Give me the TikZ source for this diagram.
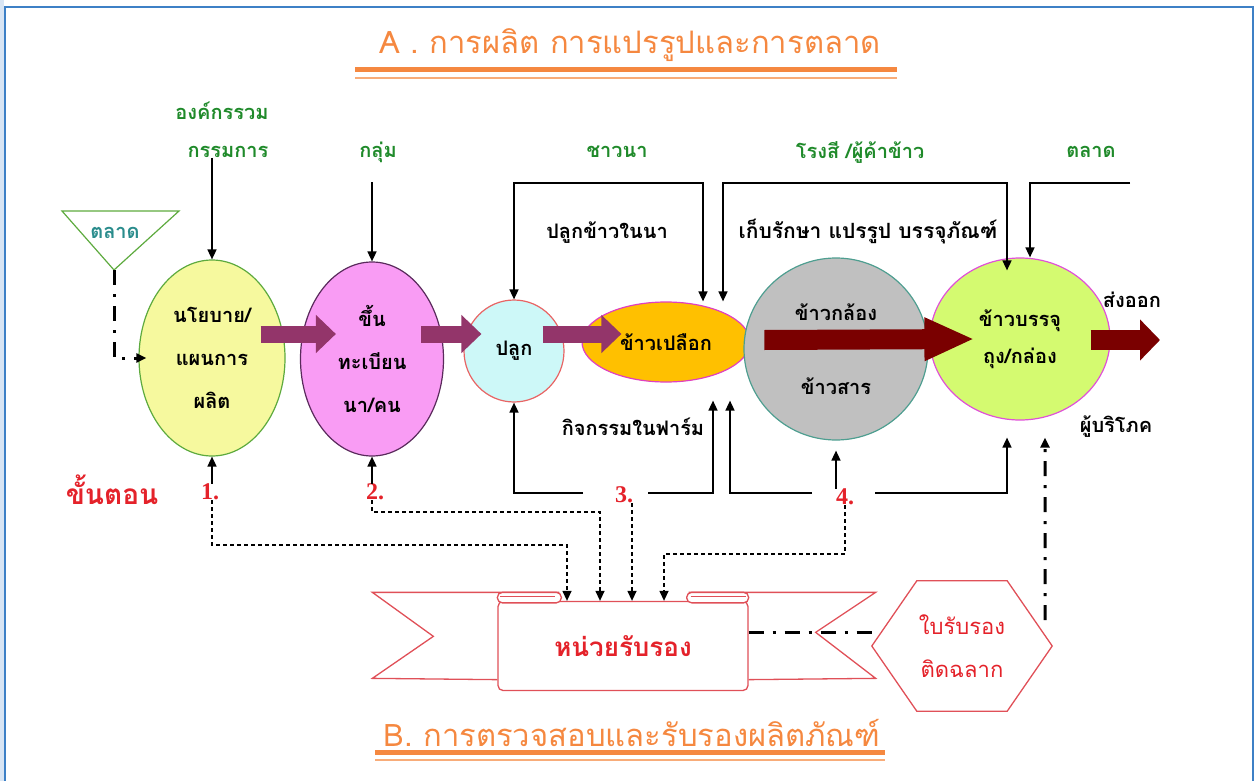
\documentclass[tikz,border=0pt]{standalone}
\usepackage{fontspec}
\setmainfont{Liberation Serif}
\newfontfamily\thai[Script=Thai]{Loma}
\usepackage{xcolor}
\usetikzlibrary{shapes.geometric}
\usetikzlibrary{arrows.meta}
\definecolor{titleor}{HTML}{F58840}
\definecolor{frameblue}{HTML}{3D80C6}
\definecolor{labgreen}{HTML}{1F8A2A}
\definecolor{mkteal}{HTML}{2A8C8C}
\definecolor{numred}{HTML}{E4222A}
\definecolor{ribred}{HTML}{E05058}
\definecolor{ylw}{HTML}{F6F99E}
\definecolor{ylwline}{HTML}{5DAA3E}
\definecolor{pnk}{HTML}{F99CF4}
\definecolor{pnkline}{HTML}{5A2A5C}
\definecolor{cyn}{HTML}{CDF8F8}
\definecolor{cynline}{HTML}{E86464}
\definecolor{org}{HTML}{FFC000}
\definecolor{orgline}{HTML}{E040C0}
\definecolor{gry}{HTML}{C0C0C0}
\definecolor{gryline}{HTML}{4E9E90}
\definecolor{lim}{HTML}{D4FA70}
\definecolor{limline}{HTML}{E050D8}
\definecolor{fatpurple}{HTML}{93356A}
\definecolor{fatred}{HTML}{7A0000}

\begin{document}
\begin{tikzpicture}[x=1pt,y=-1pt,
  every node/.style={inner sep=0pt,align=center},
  glab/.style={text=labgreen,font=\thai\bfseries\fontsize{20}{24}\selectfont},
  blab/.style={font=\thai\bfseries\fontsize{20}{24}\selectfont},
  num/.style={text=numred,font=\bfseries\fontsize{24}{28}\selectfont},
  blob/.style={ellipse,line width=1.2pt,font=\thai\bfseries\fontsize{20}{43}\selectfont},
  fatp/.style={line width=17pt,draw=fatpurple,-{Triangle[length=20pt,width=37pt]}},
  fatr/.style={line width=20pt,draw=fatred,-{Triangle[length=#1,width=40pt]}},
  arr/.style={line width=1.6pt,-{Triangle[length=10pt,width=9pt]}},
  arrb/.style={line width=1.6pt,{Triangle[length=10pt,width=9pt]}-{Triangle[length=10pt,width=9pt]}},
  dotarr/.style={line width=1.3pt,dash pattern=on 4pt off 3pt,-{Triangle[length=10pt,width=9pt]}},
  dda/.style={line width=3pt,dash pattern=on 15pt off 9pt on 3pt off 9pt},
  rib/.style={draw=ribred,line width=1.3pt}]

 \useasboundingbox (0,0) rectangle (1258,781);
 \fill[frameblue!20] (0,0) rectangle (4,781);
 \draw[frameblue,line width=1.5pt] (5,781) -- (5,7) -- (1253,7) -- (1253,781);

 % titles
 \draw (630,45) node[text=titleor,font=\thai\fontsize{31}{35}\selectfont] (TA)
              {A . การผลิต การแปรรูปและการตลาด};
 \draw[titleor,line width=5pt] (355,70) -- (897,70);
 \draw[titleor!70,line width=1.5pt] (355,78) -- (897,78);

 \draw (632,733) node[text=titleor,font=\thai\fontsize{31}{35}\selectfont] (TB)
              {B. การตรวจสอบและรับรองผลิตภัณฑ์};
 \draw[titleor,line width=5pt] (375,752) -- (885,752);
 \draw[titleor!70,line width=1.5pt] (375,760) -- (885,760);

 \draw (222,111) node[glab] (G0) {องค์กรรวม};
 \draw (228,152) node[glab] (G1) {กรรมการ};
 \draw (378,152) node[glab] (G2) {กลุ่ม};
 \draw (617,152) node[glab] (G3) {ชาวนา};
 \draw (860,152) node[glab] (G4) {โรงสี /ผู้ค้าข้าว};
 \draw (1091,152) node[glab] (G5) {ตลาด};

 \draw[draw=ylwline,line width=1.2pt] (62,211) -- (179,211) -- (114,270) -- cycle;
 \draw (115,233) node[text=mkteal,font=\thai\bfseries\fontsize{20}{24}\selectfont] (M) {ตลาด};
 \coordinate (Mtip) at (114,270);

 % process chain
 \draw (212,358) node[blob,fill=ylw,draw=ylwline,minimum width=146pt,minimum height=196pt] (A)
              {นโยบาย/\\แผนการ\\ผลิต};
 \draw (372,359) node[blob,fill=pnk,draw=pnkline,minimum width=143pt,minimum height=194pt] (B)
              {ขึ้น\\ทะเบียน\\นา/คน};
 \draw (514,351) node[blob,fill=cyn,draw=cynline,minimum width=100pt,minimum height=102pt] (C)
              {ปลูก};
 \draw (666,342) node[blob,fill=org,draw=orgline,minimum width=168pt,minimum height=80pt] (D)
              {ข้าวเปลือก};
 \draw (836,349) node[blob,fill=gry,draw=gryline,minimum width=184pt,minimum height=182pt,
              font=\thai\bfseries\fontsize{20}{74}\selectfont] (E)
              {ข้าวกล้อง\\ข้าวสาร};
 \draw (1020,339) node[blob,fill=lim,draw=limline,minimum width=180pt,minimum height=162pt,
              font=\thai\bfseries\fontsize{20}{37}\selectfont] (F)
              {ข้าวบรรจุ\\ถุง/กล่อง};

 \draw[fatp] ([xshift=-25pt,yshift=24pt]A.east) -- ([xshift=36pt,yshift=25pt]B.west);
 \draw[fatp] ([xshift=-23pt,yshift=25pt]B.east) -- ([xshift=18pt,yshift=17pt]C.west);
 \draw[fatp] ([xshift=-22pt,yshift=17pt]C.east) -- ([xshift=40pt,yshift=8pt]D.west);
 \draw[fatr=50pt] ([xshift=21pt,yshift=9pt]E.west) -- ([xshift=45pt]F.west);
 \coordinate (out) at (1160,340);
 \draw[fatr=20pt] ([xshift=-20pt,yshift=-1pt]F.east) -- (out);

 \draw (607,233) node[blab] (L1) {ปลูกข้าวในนา};
 \draw (868,232) node[blab,font=\thai\bfseries\fontsize{21}{25}\selectfont] (L2) {เก็บรักษา แปรรูป บรรจุภัณฑ์};
 \draw (633,427) node[blab] (L3) {กิจกรรมในฟาร์ม};
 \draw (1132,300) node[blab] (L4) {ส่งออก};
 \draw (1116,427) node[blab] (L5) {ผู้บริโภค};

 \draw (112,490) node[text=numred,font=\thai\bfseries\fontsize{28}{32}\selectfont] (S0) {ขั้นตอน};
 \draw (210,492) node[num] (S1) {1.};
 \draw (375,492) node[num] (S2) {2.};
 \draw (624,495) node[num] (S3) {3.};
 \draw (845,497) node[num] (S4) {4.};

 % inputs from above
 \coordinate (t1) at (514,183);
 \coordinate (t2) at (703,183);
 \coordinate (t3) at (723,183);
 \coordinate (t4) at (1007,183);
 \coordinate (t5) at (1030,183);
 \coordinate (t6) at (1130,183);
 \coordinate (f1) at ([yshift=-13pt]F.north);
 \draw[arrb] (t1 |- C.north) -- (t1) -- (t2) -- (t2 |- D.north);
 \draw[arrb] (t3 |- D.north) -- (t3) -- (t4) -- (t4 |- f1);
 \draw[arr] (t6) -- (t5) -- (t5 |- F.north);

 \draw[arr] (A.north |- G1.south) -- (A.north);
 \coordinate (g2) at (372,182);
 \draw[arr] (g2) -- (B.north);
 \draw[dda,-{Triangle[length=10pt,width=9pt]}] (Mtip) |- ([xshift=8pt]A.west);

 % inputs from below
 \draw[arr] (A.south |- S1.north) -- (A.south);
 \draw[arr] (B.south |- S2.north) -- (B.south);
 \coordinate (b1) at (583,493);
 \coordinate (b2) at (648,493);
 \coordinate (b3) at (812,493);
 \coordinate (b4) at (875,493);
 \coordinate (d1) at ([xshift=47pt,yshift=-18pt]D.south);
 \coordinate (d2) at ([xshift=64pt,yshift=-18pt]D.south);
 \coordinate (e1) at ([yshift=-10pt]E.south);
 \coordinate (f2) at ([xshift=-13pt,yshift=-17pt]F.south);
 \coordinate (f3) at ([xshift=25pt,yshift=-17pt]F.south);
 \draw[arr] (b1) -| (C.south);
 \draw[arr] (b2) -| (d1);
 \draw[arr] (b3) -| (d2);
 \draw[arr] (S4.north -| e1) -- (e1);
 \draw[arr] (b4) -| (f2);

 % certification
 \draw (623,646) node[draw=ribred,fill=white,line width=1.3pt,rounded corners=5pt,
              minimum width=250pt,minimum height=89pt,text=numred,
              font=\thai\bfseries\fontsize{26}{30}\selectfont] (R) {หน่วยรับรอง};
 \draw[rib] ([xshift=62pt,yshift=8.5pt]R.north west) -- ++(-187,0) -- ++(61,44) -- ++(-61,42)
              -- ([yshift=11.5pt]R.south west);
 \draw[rib] ([xshift=-60pt,yshift=8.5pt]R.north east) -- ++(187,0) -- ++(-60,40) -- ++(60,46)
              -- ([yshift=11.5pt]R.south east);
 \draw[rib,fill=white,rounded corners=5pt] ([yshift=-2pt]R.north west) rectangle ([xshift=64pt,yshift=8.5pt]R.north west);
 \draw[rib,line width=0.8pt] ([xshift=3pt,yshift=4pt]R.north west) -- ([xshift=58pt,yshift=4pt]R.north west);
 \draw[rib,fill=white,rounded corners=5pt] ([xshift=-62pt,yshift=-2pt]R.north east) rectangle ([yshift=8.5pt]R.north east);
 \draw[rib,line width=0.8pt] ([xshift=-58pt,yshift=4pt]R.north east) -- ([xshift=-3pt,yshift=4pt]R.north east);

 \draw (962,646) node[minimum width=180pt,minimum height=130pt,text=numred,
              font=\thai\fontsize{22}{43}\selectfont] (H) {ใบรับรอง\\ติดฉลาก};
 \draw[rib] (H.west) -- ([xshift=45pt]H.north west) -- ([xshift=-45pt]H.north east) -- (H.east)
              -- ([xshift=-45pt]H.south east) -- ([xshift=45pt]H.south west) -- cycle;

 \draw[dda] ([yshift=14pt]R.east) -- ([yshift=14pt]H.west);
 \coordinate (h1) at ([xshift=-7pt,yshift=26pt]H.east);
 \draw[dda,-{Triangle[length=10pt,width=9pt]}] (h1) -- (f3);

 \coordinate (k1) at (567,545);
 \coordinate (k2) at (600,512);
 \coordinate (k3) at ([xshift=8pt]S3.south);
 \coordinate (k4) at (664,554);
 \draw[dotarr] (A.south |- S1.south) |- (k1) -- (k1 |- R.north);
 \draw[dotarr] (B.south |- S2.south) |- (k2) -- (k2 |- R.north);
 \draw[dotarr] (k3) -- (k3 |- R.north);
 \draw[dotarr] (S4.south) |- (k4) -- (k4 |- R.north);

\end{tikzpicture}
\end{document}
